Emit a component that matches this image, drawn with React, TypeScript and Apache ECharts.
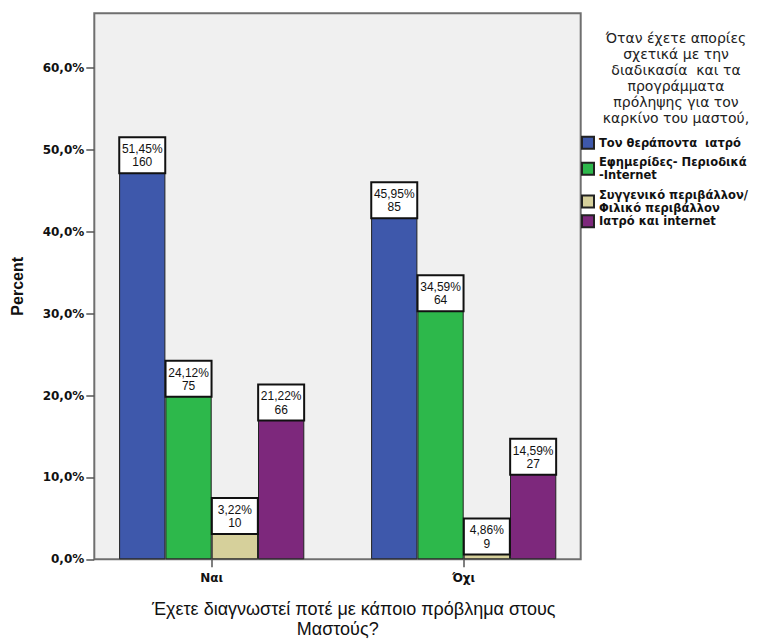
import React, { useEffect, useRef } from "react";
import * as echarts from "echarts";

// ---- data ----
const categories = ["Ναι", "Όχι"];
const seriesNames = [
  "Τον θεράποντα  ιατρό",
  "Εφημερίδες- Περιοδικά\n-Internet",
  "Συγγενικό περιβάλλον/\nΦιλικό περιβάλλον",
  "Ιατρό και internet",
];
const doctorPct = [51.45, 45.95];
const doctorN = [160, 85];
const pressPct = [24.12, 34.59];
const pressN = [75, 64];
const familyPct = [3.22, 4.86];
const familyN = [10, 9];
const bothPct = [21.22, 14.59];
const bothN = [66, 27];
const yTicks = [0, 10, 20, 30, 40, 50, 60];
const yMax = 66.7;
const legendTitle =
  "Όταν έχετε απορίες\nσχετικά με την\nδιαδικασία  και τα\nπρογράμματα\nπρόληψης για τον\nκαρκίνο του μαστού,";
const xTitle1 = "Έχετε διαγνωστεί ποτέ με κάποιο πρόβλημα στους";
const xTitle2 = "Μαστούς?";
const yTitle = "Percent";

const colors = ["#3e58ab", "#2db84b", "#d6d09b", "#7d287c"];
const pctSets = [doctorPct, pressPct, familyPct, bothPct];
const nSets = [doctorN, pressN, familyN, bothN];
const legendTops = [135.8, 156.2, 189, 214.3];

const fmtPct = (v: number, d: number) => v.toFixed(d).replace(".", ",") + "%";

export default function App() {
  const ref = useRef<HTMLDivElement>(null);
  useEffect(() => {
    document.body.style.margin = "0";
    if (!ref.current) return;
    const chart = echarts.init(ref.current, null, { renderer: "svg" });
    const boldFont = "DejaVu Sans";
    const sans = "Liberation Sans, Arial, sans-serif";
    const series = seriesNames.map((name, i) => ({
      name,
      type: "bar",
      barWidth: 46.3,
      barGap: "0%",
      itemStyle: { color: colors[i], borderColor: "#222", borderWidth: 1 },
      label: {
        show: true,
        position: "insideTop",
        distance: 0,
        formatter: (p: any) =>
          fmtPct(pctSets[i][p.dataIndex], 2) + "\n" + nSets[i][p.dataIndex],
        backgroundColor: "#ffffff",
        borderColor: "#111",
        borderWidth: 2,
        padding: [4, 0, 3, 0],
        width: 44,
        align: "center",
        lineHeight: 13.5,
        fontSize: 12,
        fontFamily: sans,
        color: "#111",
      },
      data: pctSets[i].map((v) =>
        v < 4.4 ? { value: v, label: { position: "top", distance: 0 } } : { value: v }
      ),
    }));
    chart.setOption({
      animation: false,
      backgroundColor: "#ffffff",
      grid: {
        left: 85.7,
        top: 13.3,
        width: 504,
        height: 546,
        containLabel: false,
        outerBoundsMode: "none",
      },
      graphic: [
        {
          type: "rect",
          z: -10,
          shape: { x: 94.3, y: 13.3, width: 486.4, height: 546 },
          style: { fill: "#f0f0f0", stroke: "#6f6f6f", lineWidth: 2 },
        },
        {
          type: "text",
          x: 676,
          y: 30,
          style: {
            text: legendTitle,
            align: "center",
            verticalAlign: "top",
            fontSize: 14,
            lineHeight: 16,
            fontFamily: "DejaVu Sans, sans-serif",
            fill: "#222",
          },
        },
      ],
      legend: seriesNames.map((name, i) => ({
        data: [name],
        orient: "vertical",
        left: 581,
        top: legendTops[i],
        padding: 0,
        itemGap: 0,
        itemWidth: 12,
        itemHeight: 12,
        icon: "rect",
        selectedMode: false,
        textStyle: {
          fontFamily: boldFont,
          fontWeight: "bold",
          fontSize: 11.5,
          lineHeight: 12.5,
          color: "#111",
        },
      })),
      xAxis: {
        type: "category",
        data: categories,
        axisLine: { show: false },
        axisTick: {
          show: true,
          alignWithLabel: true,
          length: 8,
          lineStyle: { color: "#555", width: 1.5 },
        },
        axisLabel: {
          margin: 13,
          fontFamily: boldFont,
          fontWeight: "bold",
          fontSize: 12,
          color: "#111",
        },
        name: "{a|" + xTitle1 + "}\n{b|" + xTitle2 + "}",
        nameLocation: "middle",
        nameGap: 40,
        nameTextStyle: {
          fontFamily: sans,
          fontSize: 18,
          color: "#111",
          lineHeight: 19.5,
          rich: {
            a: { fontSize: 18, lineHeight: 19.5, padding: [0, 0, 0, 32], color: "#111", fontFamily: sans },
            b: { fontSize: 18, lineHeight: 19.5, color: "#111", fontFamily: sans },
          },
        },
      },
      yAxis: {
        type: "value",
        min: 0,
        max: yMax,
        interval: 10,
        offset: -8.6,
        axisLine: { show: false },
        splitLine: { show: false },
        axisTick: {
          show: true,
          length: 8,
          customValues: yTicks,
          lineStyle: { color: "#555", width: 1.5 },
        },
        axisLabel: {
          customValues: yTicks,
          margin: 10,
          formatter: (v: number) => fmtPct(v, 1),
          fontFamily: boldFont,
          fontWeight: "bold",
          fontSize: 12,
          color: "#111",
        },
        name: yTitle,
        nameLocation: "middle",
        nameGap: 69,
        nameTextStyle: {
          fontFamily: sans,
          fontWeight: "bold",
          fontSize: 16,
          color: "#111",
        },
      },
      series,
    });
    return () => chart.dispose();
  }, []);
  return <div ref={ref} style={{ width: 767, height: 640 }} />;
}
